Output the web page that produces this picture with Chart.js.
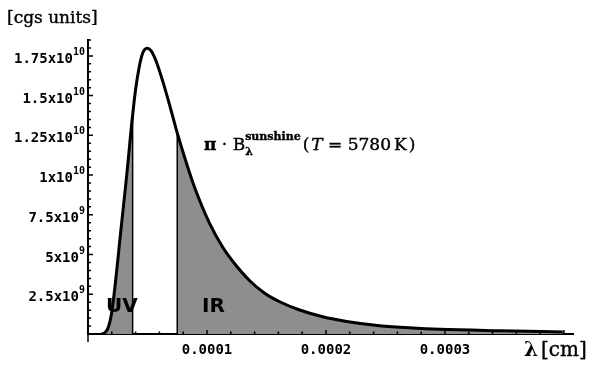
<!DOCTYPE html>
<html lang="en">
<head>
  <meta charset="UTF-8">
  <title>Sunshine spectrum</title>
  <script src="https://cdn.jsdelivr.net/npm/chart.js"></script>
  <style>
    body {
      margin: 0;
      background-color: #ffffff;
    }
    #wrap {
      position: relative;
      width: 600px;
      height: 367px;
    }
  </style>
</head>
<body>
  <div id="wrap">
    <canvas id="planckChart" width="600" height="367"></canvas>
  </div>

  <script>
    // wavelength in cm
    const lambdaCm = [0.0000115, 0.000014, 0.0000166, 0.0000182, 0.0000199, 0.0000216, 0.0000233, 0.000025,
      0.0000266, 0.0000283, 0.00003, 0.0000317, 0.0000334, 0.000035, 0.0000367, 0.0000375, 0.000038,
      0.0000392, 0.0000409, 0.0000426, 0.0000443, 0.000046, 0.0000477, 0.0000496, 0.0000531, 0.0000575,
      0.000063, 0.0000695, 0.000075, 0.0000827, 0.0000897, 0.0001023, 0.0001135, 0.0001216, 0.0001359,
      0.0001485, 0.0001611, 0.0001779, 0.0001972, 0.0002174, 0.0002451, 0.0002729, 0.0002956, 0.000346, 0.000399];
    // pi * B_lambda in cgs units
    const piBlambda = [0, 0.063e9, 0.335e9, 0.713e9, 1.345e9, 2.292e9, 3.428e9, 4.628e9,
      5.827e9, 7.027e9, 8.226e9, 9.426e9, 10.688e9, 11.951e9, 13.277e9, 13.807e9, 14.16e9,
      14.98e9, 15.93e9, 16.69e9, 17.32e9, 17.76e9, 17.98e9, 18.06e9, 17.89e9, 17.19e9,
      15.93e9, 14.22e9, 12.71e9, 10.81e9, 9.24e9, 6.97e9, 5.448e9, 4.596e9, 3.365e9,
      2.576e9, 2.039e9, 1.515e9, 1.092e9, 0.795e9, 0.524e9, 0.379e9, 0.303e9, 0.208e9, 0.126e9];

    const uvEdge = 0.0000375;
    const irEdge = 0.000075;

    const xTickLabels = ["0.0001", "0.0002", "0.0003"];
    const yTickBase = ["2.5x10", "5x10", "7.5x10", "1x10", "1.25x10", "1.5x10", "1.75x10"];
    const yTickExp = ["9", "9", "9", "10", "10", "10", "10"];

    const xStep = 0.00002;
    const yStep = 5e8;

    const points = lambdaCm.map((x, i) => ({ x: x, y: piBlambda[i] }));
    const uvPoints = points.filter(p => p.x <= uvEdge);
    const irPoints = points.filter(p => p.x >= irEdge);
    const uvTop = piBlambda[lambdaCm.indexOf(uvEdge)];
    const irTop = piBlambda[lambdaCm.indexOf(irEdge)];

    const shade = "#8e8e8e";
    const mono = "'DejaVu Sans Mono', monospace";
    const serif = "'DejaVu Serif', serif";

    // inward tick marks and y labels with real superscripts
    const axisTicks = {
      id: "axisTicks",
      afterDraw(chart) {
        const ctx = chart.ctx;
        const xs = chart.scales.x;
        const ys = chart.scales.y;
        const x0 = xs.getPixelForValue(0);
        const y0 = ys.getPixelForValue(0);
        ctx.save();
        ctx.strokeStyle = "#000";
        ctx.fillStyle = "#000";
        ctx.lineWidth = 1.5;
        ctx.beginPath();
        ys.ticks.forEach(t => {
          const k = Math.round(t.value / yStep);
          if (k <= 0) return;
          const py = ys.getPixelForValue(t.value);
          const len = k % 5 === 0 ? 5 : 3;
          ctx.moveTo(x0, py);
          ctx.lineTo(x0 + len, py);
        });
        xs.ticks.forEach(t => {
          const k = Math.round(t.value / xStep);
          if (k <= 0) return;
          const px = xs.getPixelForValue(t.value);
          const len = k % 5 === 0 ? 4 : 2.5;
          ctx.moveTo(px, y0);
          ctx.lineTo(px, y0 - len);
        });
        // y axis pokes a little below the x axis
        ctx.moveTo(x0, y0);
        ctx.lineTo(x0, y0 + 8);
        ctx.stroke();

        ctx.textBaseline = "alphabetic";
        ctx.textAlign = "left";
        ys.ticks.forEach(t => {
          const k = Math.round(t.value / yStep);
          if (k <= 0 || k % 5 !== 0) return;
          const i = k / 5 - 1;
          if (!yTickBase[i]) return;
          const py = ys.getPixelForValue(t.value);
          ctx.font = "bold 14px " + mono;
          const wb = ctx.measureText(yTickBase[i]).width;
          ctx.font = "bold 10px " + mono;
          const we = ctx.measureText(yTickExp[i]).width;
          const left = x0 - 3 - wb - we;
          ctx.font = "bold 14px " + mono;
          ctx.fillText(yTickBase[i], left, py + 7);
          ctx.font = "bold 10px " + mono;
          ctx.fillText(yTickExp[i], left + wb, py - 1);
        });
        ctx.restore();
      }
    };

    // labels and the formula
    const labels = {
      id: "labels",
      afterDraw(chart) {
        const ctx = chart.ctx;
        ctx.save();
        ctx.fillStyle = "#000";
        ctx.strokeStyle = "#000";
        ctx.lineWidth = 0.4;
        ctx.textBaseline = "alphabetic";
        ctx.textAlign = "left";

        const heavy = (txt, x, y) => {
          ctx.fillText(txt, x, y);
          ctx.strokeText(txt, x, y);
        };

        ctx.font = "17px " + serif;
        heavy("[cgs units]", 7, 23);

        ctx.font = "bold 20px " + serif;
        ctx.fillText("\u03bb", 524, 356);
        ctx.font = "20px " + serif;
        heavy("[cm]", 541, 356);

        ctx.font = "bold 20px 'DejaVu Sans'";
        ctx.fillText("UV", 106, 312);
        ctx.fillText("IR", 202, 312);

        // pi . B_lambda^sunshine (T = 5780 K)
        let x = 204;
        const base = 150;
        const piece = (txt, font, dy) => {
          ctx.font = font;
          heavy(txt, x, base + (dy || 0));
          return ctx.measureText(txt).width;
        };
        x += piece("\u03c0", "bold 17px " + serif);
        x += piece(" \u00b7 ", "17px " + serif);
        x += piece("B", "17px " + serif);
        const sx = x;
        const w1 = piece("\u03bb", "bold 11px " + serif, 5);
        x = sx;
        const w2 = piece("sunshine", "bold 11px " + serif, -10);
        x = sx + Math.max(w1, w2) + 2;
        x += piece("(", "17px " + serif);
        x += 2;
        x += piece("T", "italic 17px " + serif);
        x += piece(" = ", "17px " + serif);
        x += piece("5780", "17px " + serif);
        x += 3;
        x += piece("K", "17px " + serif);
        x += 2;
        piece(")", "17px " + serif);
        ctx.restore();
      }
    };

    const ctx = document.getElementById("planckChart").getContext("2d");

    new Chart(ctx, {
      type: "line",
      data: {
        datasets: [
          {
            label: "curve",
            data: points,
            borderColor: "#000",
            borderWidth: 3,
            pointRadius: 0,
            fill: false,
            cubicInterpolationMode: "monotone"
          },
          {
            label: "uv edge",
            data: [{ x: uvEdge, y: 0 }, { x: uvEdge, y: uvTop }],
            borderColor: "#000",
            borderWidth: 1.5,
            pointRadius: 0,
            fill: false
          },
          {
            label: "ir edge",
            data: [{ x: irEdge, y: 0 }, { x: irEdge, y: irTop }],
            borderColor: "#000",
            borderWidth: 1.5,
            pointRadius: 0,
            fill: false
          },
          {
            label: "UV",
            data: uvPoints,
            borderWidth: 0,
            borderColor: shade,
            backgroundColor: shade,
            pointRadius: 0,
            fill: "origin",
            cubicInterpolationMode: "monotone"
          },
          {
            label: "IR",
            data: irPoints,
            borderWidth: 0,
            borderColor: shade,
            backgroundColor: shade,
            pointRadius: 0,
            fill: "origin",
            cubicInterpolationMode: "monotone"
          }
        ]
      },
      options: {
        responsive: false,
        animation: false,
        layout: { padding: { top: 40, right: 27, left: 0, bottom: 0 } },
        plugins: {
          legend: { display: false },
          tooltip: { enabled: false }
        },
        scales: {
          x: {
            type: "linear",
            min: 0,
            max: 0.0004076,
            afterFit: s => { s.height = 33; },
            grid: { display: false, drawTicks: false },
            border: { display: true, color: "#000", width: 2 },
            ticks: {
              stepSize: xStep,
              includeBounds: false,
              autoSkip: false,
              maxRotation: 0,
              padding: 8,
              color: "#000",
              font: { family: mono, size: 14, weight: "bold" },
              callback: v => {
                const k = Math.round(v / xStep);
                return k > 0 && k % 5 === 0 ? (xTickLabels[k / 5 - 1] || "") : "";
              }
            }
          },
          y: {
            type: "linear",
            min: 0,
            max: 1.858e10,
            afterFit: s => { s.width = 88; },
            grid: { display: false, drawTicks: false },
            border: { display: true, color: "#000", width: 2 },
            ticks: {
              display: false,
              stepSize: yStep,
              includeBounds: false
            }
          }
        }
      },
      plugins: [axisTicks, labels]
    });
  </script>
</body>
</html>
